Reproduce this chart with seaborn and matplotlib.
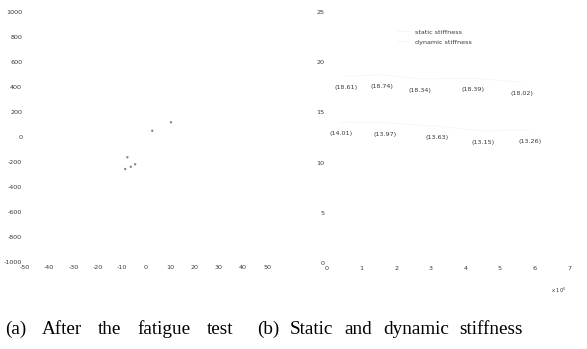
import matplotlib
matplotlib.use("Agg")
import matplotlib.pyplot as plt
import seaborn as sns
import pandas as pd

# Panel (a): force-displacement samples after the fatigue test
displacement = [10.3, 2.6, -7.7, -4.5, -6.3, -8.6]
force = [118, 50, -162, -218, -238, -256]

# Panel (b): stiffness versus number of cycles (x 10^5)
static_cycles = [0.55, 1.59, 2.69, 4.22, 5.64]
static_stiffness = [18.61, 18.74, 18.34, 18.39, 18.02]
dynamic_cycles = [0.40, 1.68, 3.18, 4.50, 5.87]
dynamic_stiffness = [14.01, 13.97, 13.63, 13.15, 13.26]

left_xticks = [-50, -40, -30, -20, -10, 0, 10, 20, 30, 40, 50]
left_yticks = [-1000, -800, -600, -400, -200, 0, 200, 400, 600, 800, 1000]
right_xticks = [0, 1, 2, 3, 4, 5, 6, 7]
right_yticks = [0, 5, 10, 15, 20, 25]

caption_a = ["(a)", "After", "the", "fatigue", "test"]
caption_b = ["(b)", "Static", "and", "dynamic", "stiffness"]

sns.set_theme(style="white")
plt.rcParams["font.family"] = ["DejaVu Sans"]
plt.rcParams["axes.unicode_minus"] = False

W, H = 587, 349
fig = plt.figure(figsize=(W / 100, H / 100), dpi=100)
fig.patch.set_facecolor("white")


def px_axes(left, top, right, bottom):
    return fig.add_axes([left / W, 1 - bottom / H, (right - left) / W, (bottom - top) / H])


tick_color = "#3a3a3a"
tick_size = 4.6

# ---- panel (a)
ax1 = px_axes(25, 12, 267, 262)
df_a = pd.DataFrame({"disp": displacement, "force": force})
sns.scatterplot(data=df_a, x="disp", y="force", ax=ax1, s=3, color="#888888",
                edgecolor="none", legend=False)
ax1.set_xlim(-50, 50)
ax1.set_ylim(-1000, 1000)
ax1.set_xticks(left_xticks)
ax1.set_yticks(left_yticks)
ax1.set_xlabel("")
ax1.set_ylabel("")

# ---- panel (b)
ax2 = px_axes(327, 12, 569, 263)
df_s = pd.DataFrame({"cycles": static_cycles, "k": static_stiffness})
df_d = pd.DataFrame({"cycles": dynamic_cycles, "k": dynamic_stiffness})
sns.lineplot(data=df_s, x="cycles", y="k", ax=ax2, color="#f5f5f5", lw=0.6,
             label="static stiffness")
sns.lineplot(data=df_d, x="cycles", y="k", ax=ax2, color="#f5f5f5", lw=0.6,
             label="dynamic stiffness")
for cx, k in zip(static_cycles, static_stiffness):
    ax2.text(cx, k - 1.15, f"({k:.2f})", ha="center", va="center",
             fontsize=tick_size, color=tick_color)
for cx, k in zip(dynamic_cycles, dynamic_stiffness):
    ax2.text(cx, k - 1.15, f"({k:.2f})", ha="center", va="center",
             fontsize=tick_size, color=tick_color)
ax2.set_xlim(0, 7)
ax2.set_ylim(0, 25)
ax2.set_xticks(right_xticks)
ax2.set_yticks(right_yticks)
ax2.set_xlabel("")
ax2.set_ylabel("")
leg = ax2.legend(loc="upper left", bbox_to_anchor=((394 - 327) / 242, 1 - (26 - 12) / 251),
                 frameon=False, fontsize=tick_size, handlelength=2.0,
                 handletextpad=0.8, borderpad=0, labelspacing=0.7)
for t in leg.get_texts():
    t.set_color(tick_color)
ax2.text((559 - 327) / 242, -0.108, r"x 10$^{5}$", transform=ax2.transAxes, ha="center",
         va="center", fontsize=3.8, color=tick_color)

for ax in (ax1, ax2):
    ax.set_facecolor("none")
    for sp in ax.spines.values():
        sp.set_visible(False)
    ax.tick_params(axis="both", length=0, labelsize=tick_size, colors=tick_color)
    ax.tick_params(axis="x", pad=2)
    ax.tick_params(axis="y", pad=2)
    ax.grid(False)

# captions: justified across a fixed width, words spread with equal gaps
renderer = fig.canvas.get_renderer()
for words, (x_start, x_end) in ((caption_a, (5, 233)), (caption_b, (257, 523))):
    texts = [fig.text(0, 1 - 329 / H, w, ha="left", va="center", fontsize=13.8,
                      family="Liberation Serif", color="black") for w in words]
    widths = [t.get_window_extent(renderer).width for t in texts]
    gap = (x_end - x_start - sum(widths)) / (len(words) - 1)
    x = x_start
    for t, wd in zip(texts, widths):
        t.set_x(x / W)
        x += wd + gap

fig.savefig("out.png", dpi=100, facecolor="white")
